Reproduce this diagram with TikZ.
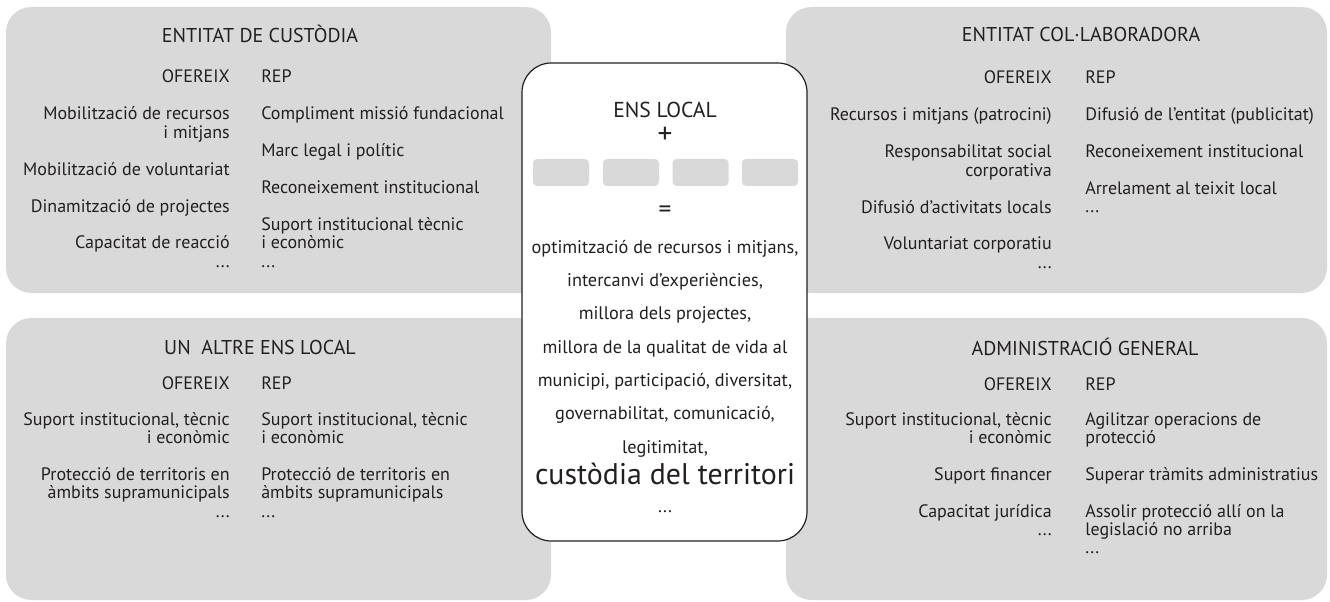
\documentclass[tikz,border=0pt]{standalone}
\usepackage{fontspec}
\setmainfont{PT Sans}
\usetikzlibrary{positioning}
\definecolor{panelgray}{RGB}{217,217,217}
\definecolor{inkblack}{RGB}{35,31,32}
\tikzset{
  panel/.style={fill=panelgray, rounded corners=19pt, inner sep=0pt},
  hubbox/.style={draw=inkblack, fill=white, line width=0.9pt, rounded corners=22pt, inner sep=0pt},
  slot/.style={fill=panelgray, rounded corners=3pt, inner sep=0pt, minimum width=42pt, minimum height=20.25pt},
  body/.style={inner sep=0pt, text=inkblack, font=\fontsize{13.5}{13.8}\selectfont},
  leftcol/.style={body, align=right, anchor=base east},
  rightcol/.style={body, align=left, anchor=base west},
  panelhead/.style={inner sep=0pt, text=inkblack, anchor=base, font=\fontsize{15}{17}\selectfont},
}
\begin{document}
\begin{tikzpicture}[x=0.75pt, y=-0.75pt]
            \useasboundingbox (0,0) rectangle (1330,602);

            \node[panel, minimum width=408.75pt, minimum height=214.5pt] (custodia) at (278.5,150) {};
            \node[panel, minimum width=405.75pt, minimum height=214.5pt] (collab) at (1056.5,150) {};
            \node[panel, minimum width=408.75pt, minimum height=211.5pt] (altre) at (278.5,459) {};
            \node[panel, minimum width=405.75pt, minimum height=211.5pt] (admin) at (1056.5,459) {};

            \node[panelhead] (custodiahead) at (260,43) {ENTITAT DE CUSTÒDIA};
            \node[body, anchor=base east] (custodiaof) at (230,83) {OFEREIX};
            \node[body, anchor=base west] (custodiarep) at (261,83) {REP};
            \node[leftcol] (custodiaL) at (230,267.2) {Mobilització de recursos\\ i mitjans\\[13.8pt]
              Mobilització de voluntariat\\[13.8pt] Dinamització de projectes\\[13.8pt]
              Capacitat de reacció\\ ...};
            \node[rightcol] (custodiaR) at (261,267.2) {Compliment missió fundacional\\[13.8pt]
              Marc legal i polític\\[13.8pt] Reconeixement institucional\\[13.8pt]
              Suport institucional tècnic\\ i econòmic\\ ...};

            \node[panelhead] (collabhead) at (1081,42) {ENTITAT COL·LABORADORA};
            \node[body, anchor=base east] (collabof) at (1052,84) {OFEREIX};
            \node[body, anchor=base west] (collabrep) at (1085,84) {REP};
            \node[leftcol] (collabL) at (1052,268.2) {Recursos i mitjans (patrocini)\\[13.8pt]
              Responsabilitat social\\ corporativa\\[13.8pt] Difusió d’activitats locals\\[13.8pt]
              Voluntariat corporatiu\\ ...};
            \node[rightcol] (collabR) at (1085,213) {Difusió de l’entitat (publicitat)\\[13.8pt]
              Reconeixement institucional\\[13.8pt] Arrelament al teixit local\\ ...};

            \node[panelhead] (altrehead) at (260,354) {UN\ \ ALTRE ENS LOCAL};
            \node[body, anchor=base east] (altreof) at (230,389) {OFEREIX};
            \node[body, anchor=base west] (altrerep) at (261,389) {REP};
            \node[leftcol] (altreL) at (230,517) {Suport institucional, tècnic\\ i econòmic\\[13.8pt]
              Protecció de territoris en\\ àmbits supramunicipals\\ ...};
            \node[rightcol] (altreR) at (261,517) {Suport institucional, tècnic\\ i econòmic\\[13.8pt]
              Protecció de territoris en\\ àmbits supramunicipals\\ ...};

            \node[panelhead] (adminhead) at (1085,355) {ADMINISTRACIÓ GENERAL};
            \node[body, anchor=base east] (adminof) at (1052,390) {OFEREIX};
            \node[body, anchor=base west] (adminrep) at (1085,390) {REP};
            \node[leftcol] (adminL) at (1052,535.4) {Suport institucional, tècnic\\ i econòmic\\[13.8pt]
              Suport financer\\[13.8pt] Capacitat jurídica\\ ...};
            \node[rightcol] (adminR) at (1085,553.8) {Agilitzar operacions de\\ protecció\\[13.8pt]
              Superar tràmits administratius\\[13.8pt] Assolir protecció allí on la\\
              legislació no arriba\\ ...};

            \node[hubbox, minimum width=213.75pt, minimum height=358.5pt] (ens) at (664.5,302) {};
            \node[inner sep=0pt, text=inkblack, anchor=base, font=\fontsize{16.2}{18}\selectfont] (enshead) at (665,118) {ENS LOCAL};
            \node[inner sep=0pt, text=inkblack, font=\fontsize{22}{24}\selectfont] (plus) at (665,135) {+};
            \node[slot] (slot1) at (561,172.5) {};
            \node[slot] (slot2) at (631,172.5) {};
            \node[slot] (slot3) at (700.5,172.5) {};
            \node[slot] (slot4) at (770,172.5) {};
            \node[inner sep=0pt, text=inkblack, font=\fontsize{19}{21}\selectfont] (equals) at (665,212) {=};
            \node[body, align=center, anchor=base, font=\fontsize{13.7}{25}\selectfont] (gains) at (665,453)
              {optimització de recursos i mitjans,\\ intercanvi d’experiències,\\ millora dels projectes,\\
               millora de la qualitat de vida al\\ municipi, participació, diversitat,\\
               governabilitat, comunicació,\\ legitimitat,};
            \node[inner sep=0pt, text=inkblack, anchor=base, font=\fontsize{22.4}{26}\selectfont] (territori) at (665,484) {custòdia del territori};
            \node[body, anchor=base] (more) at (665,512) {...};
\end{tikzpicture}
\end{document}
